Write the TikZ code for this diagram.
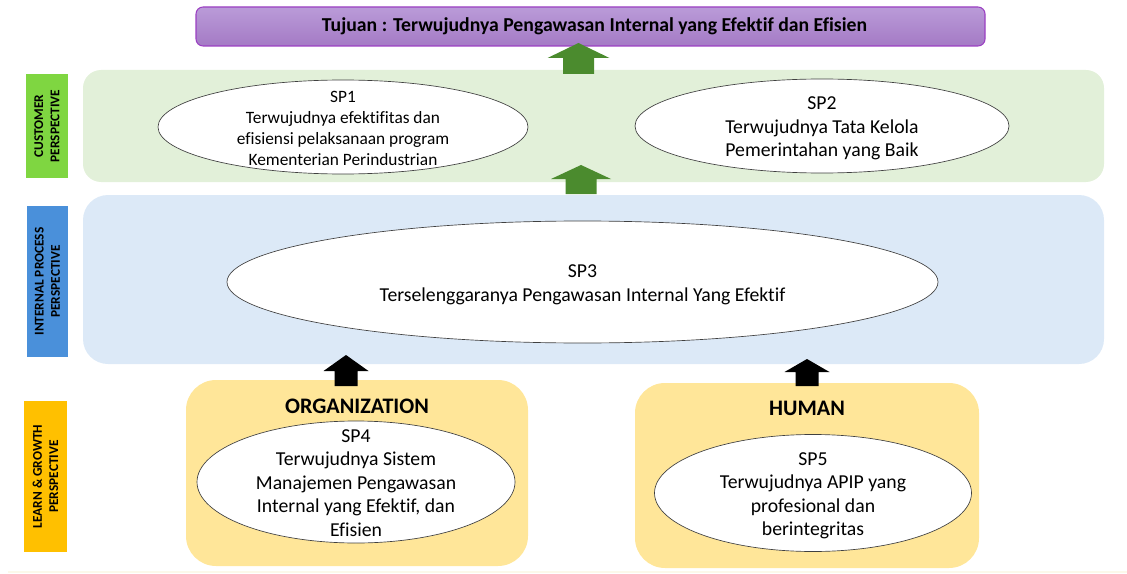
\documentclass[tikz,border=0pt]{standalone}
\usepackage{fontspec}
\setmainfont{Carlito}[Ligatures=NoCommon]
\usetikzlibrary{shapes.geometric,positioning}

\newlength{\pix}
\setlength{\pix}{0.75pt}

\definecolor{purpletop}{HTML}{BA9BD8}
\definecolor{purplebot}{HTML}{A47AC5}
\definecolor{purpleline}{HTML}{9B3FC2}
\definecolor{greenpanel}{HTML}{E2F0D9}
\definecolor{bluepanel}{HTML}{DCE9F7}
\definecolor{yellowbox}{HTML}{FFE699}
\definecolor{greenlabel}{HTML}{7FD641}
\definecolor{bluelabel}{HTML}{4A90DA}
\definecolor{yellowlabel}{HTML}{FFC000}
\definecolor{arrowgreen}{HTML}{4B8B2E}
\definecolor{bottomline}{HTML}{FCF8EA}

% text of a goal, kept from stretching the ellipse
\newcommand{\goaltext}[1]{\smash{\raisebox{-0.38em}{\begin{tabular}{@{}c@{}}#1\end{tabular}}}}

% block arrow pointing up: style, tip, head length, total length, head half width, shaft half width
\newcommand{\blockup}[6]{%
  \fill[#1] (#2) -- ++(#5,#3) -- ++(-#5+#6,0) -- ++(0,#4-#3) -- ++(-2*#6,0)
    -- ++(0,-#4+#3) -- ++(-#5+#6,0) -- cycle;}

\begin{document}
\begin{tikzpicture}[x=0.75pt, y=-0.75pt,
    panel/.style = {rectangle, rounded corners=#1, inner sep=0pt},
    sidelabel/.style = {rectangle, rotate=90, inner sep=0pt, align=center,
      font=\bfseries\fontsize{10}{12.2}\selectfont},
    goal/.style = {ellipse, draw=black!75, line width=0.5pt, fill=white, inner sep=0pt,
      font=\fontsize{14.8}{17.6}\selectfont},
    header/.style = {font=\bfseries\fontsize{16.6}{19}\selectfont}]
  \useasboundingbox (0,0) rectangle (1127,574);

  % perspective panels
  \node[panel=18\pix, fill=greenpanel, minimum width=1021\pix, minimum height=112\pix] (cust) at (593.5,126) {};
  \node[panel=25\pix, fill=bluepanel, minimum width=1021\pix, minimum height=169\pix] (intp) at (593.5,279.5) {};
  \node[panel=30\pix, fill=yellowbox, minimum width=342\pix, minimum height=186\pix] (org) at (357,473) {};
  \node[panel=30\pix, fill=yellowbox, minimum width=344\pix, minimum height=185\pix] (hum) at (807,475.5) {};
  \draw[bottomline, line width=2\pix] (8,572) -- (1127,572);

  % goal on top
  \node[panel=7\pix, draw=purpleline, line width=0.8pt, top color=purpletop, bottom color=purplebot,
    minimum width=789\pix, minimum height=39\pix, font=\bfseries\fontsize{14.8}{17}\selectfont]
    (tujuan) at (590.5,26.5) {\hspace*{8\pix}Tujuan : Terwujudnya Pengawasan Internal yang Efektif dan Efisien};

  % side labels
  \node[sidelabel, fill=greenlabel, minimum width=104\pix, minimum height=42\pix] (lcust) at (47,126) {CUSTOMER\\PERSPECTIVE};
  \node[sidelabel, fill=bluelabel, minimum width=151\pix, minimum height=41\pix] (lintp) at (47.5,281.5) {INTERNAL PROCESS\\PERSPECTIVE};
  \node[sidelabel, fill=yellowlabel, minimum width=151\pix, minimum height=43\pix] (llearn) at (45.5,476.5) {LEARN \& GROWTH\\PERSPECTIVE};

  % strategic goals
  \node[goal, minimum width=370\pix, minimum height=94\pix, font=\fontsize{13}{15.75}\selectfont] (sp1) at (343,127)
    {\goaltext{SP1\\Terwujudnya efektifitas dan\\efisiensi pelaksanaan program\\Kementerian Perindustrian}};
  \node[goal, minimum width=374\pix, minimum height=94\pix] (sp2) at (822,126)
    {\goaltext{SP2\\Terwujudnya Tata Kelola\\Pemerintahan yang Baik}};
  \node[goal, minimum width=711\pix, minimum height=122\pix] (sp3) at (582.5,282)
    {\goaltext{SP3\\Terselenggaranya Pengawasan Internal Yang Efektif}};
  \node[header] (orgt) at ([yshift=-27\pix]org.north) {ORGANIZATION};
  \node[header] (humt) at ([yshift=-26\pix]hum.north) {HUMAN};
  \node[goal, minimum width=318\pix, minimum height=122\pix] (sp4) at (356,482)
    {\goaltext{SP4\\Terwujudnya Sistem\\Manajemen Pengawasan\\Internal yang Efektif, dan\\Efisien}};
  \node[goal, minimum width=317\pix, minimum height=117\pix] (sp5) at (813,493)
    {\goaltext{SP5\\Terwujudnya APIP yang\\profesional dan\\berintegritas}};

  % arrows between perspectives
  \coordinate (g1) at (578.5,43);
  \coordinate (g2) at (581,165);
  \coordinate (b1) at (346,355);
  \coordinate (b2) at (807,359);
  \blockup{arrowgreen}{g1}{15}{31}{31}{15.5}
  \blockup{arrowgreen}{g2}{14}{29}{30}{15.5}
  \blockup{black}{b1}{16}{31}{22.5}{11.5}
  \blockup{black}{b2}{13}{27}{22.5}{11.5}
\end{tikzpicture}
\end{document}
